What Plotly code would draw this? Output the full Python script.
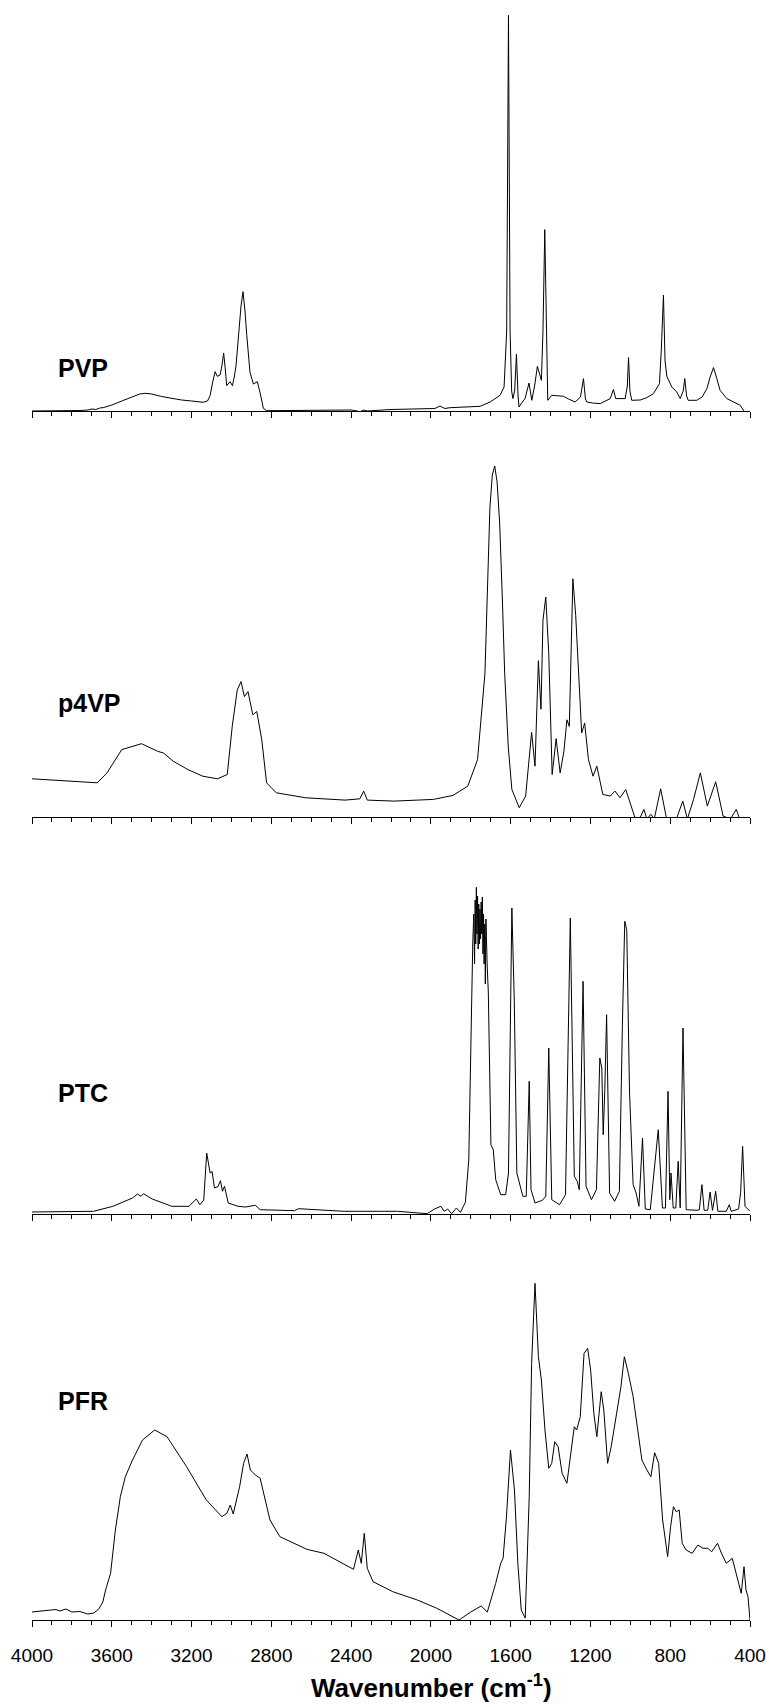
import plotly.graph_objects as go

FIG_W, FIG_H = 769, 1707

# ---------------- data (wavenumber in cm-1, absorbance in arbitrary units) ----------------
pvp_wn = [4000, 3850, 3760, 3720, 3700, 3680, 3660, 3640, 3600, 3550, 3500, 3460, 3433, 3400, 3350,
          3300, 3250, 3200, 3142, 3120, 3107, 3095, 3082, 3071, 3057, 3048, 3039, 3030, 3024, 3007,
          2995, 2985, 2977, 2963, 2952, 2942, 2932, 2923, 2907, 2890, 2870, 2857, 2840, 2823, 2700,
          2500, 2400, 2370, 2355, 2340, 2320, 2200, 2050, 1980, 1955, 1930, 1904, 1800, 1753, 1703,
          1653, 1633, 1620, 1611, 1603, 1595, 1589, 1580, 1571, 1563, 1558, 1545, 1528, 1508, 1494,
          1480, 1466, 1446, 1438, 1429, 1421, 1414, 1394, 1370, 1335, 1310, 1277, 1250, 1235, 1225,
          1218, 1190, 1151, 1101, 1085, 1073, 1026, 1015, 1009, 1002, 993, 950, 917, 884, 854,
          845, 834, 826, 817, 792, 767, 750, 735, 727, 718, 710, 667, 640, 616, 600,
          583, 570, 550, 516, 449, 424, 400]
pvp_abs = [0, 0, 0.5, 1, 2, 1.5, 3, 3.5, 6, 10, 14, 17, 17.7, 17, 14.5,
           12.5, 11, 10, 8.7, 10, 15.3, 28, 39.3, 34.7, 36, 45, 58, 40, 25.3, 29.3,
           25.3, 35, 45.3, 78.7, 105, 119.3, 100, 75.3, 38.7, 27, 29.3, 18.7, 2.7, 0.3, 0.5,
           1, 1, 0, -1, 1, 0, 1.5, 2, 2.5, 5, 2.5, 3.3, 4, 4.7, 9,
           15.7, 24, 80, 395.7, 80, 20, 12.4, 20, 56.7, 15, 4, 8, 12.4, 28, 10.7,
           25, 44.7, 30.7, 80, 181.4, 60, 10.7, 15.7, 15.5, 14.7, 12, 9, 14, 32.4, 12,
           9, 8, 7.4, 12.4, 21.4, 12.4, 12.4, 25, 53.4, 20, 10.7, 11, 13.4, 17.4, 27.4,
           60, 116, 50, 34.7, 24, 19, 12.4, 20, 32.4, 15, 10.7, 10.7, 14, 22.4, 34,
           43.4, 35, 20.7, 12.4, 5.7, -2, -5]

p4vp_wn = [4000, 3833, 3673, 3624, 3550, 3451, 3370, 3341, 3291, 3218, 3144, 3070, 3021, 2996, 2971,
           2952, 2935, 2917, 2893, 2873, 2848, 2824, 2775, 2627, 2430, 2356, 2337, 2319, 2184, 1987,
           1889, 1815, 1766, 1729, 1715, 1704, 1692, 1680, 1668, 1655, 1642, 1630, 1612, 1594, 1557,
           1525, 1495, 1478, 1461, 1448, 1438, 1424, 1409, 1392, 1372, 1352, 1333, 1318, 1306, 1288,
           1274, 1259, 1244, 1229, 1210, 1187, 1168, 1138, 1101, 1077, 1052, 1023, 1003, 978, 954,
           932, 917, 897, 880, 848, 818, 769, 737, 714, 683, 649, 614, 572, 535,
           498, 469, 454, 400]
p4vp_abs = [38.2, 35.8, 34.2, 44.1, 67.4, 73.3, 65.7, 64, 55.7, 47.4, 40.8, 38.2, 42.5, 90.6, 127,
            135.4, 120.4, 125.4, 102.2, 105.5, 77.3, 34.2, 24.2, 19.2, 16.9, 18.2, 25.9, 16.9, 15.9, 17.6,
            21.6, 30.9, 57.4, 143.7, 240, 309.6, 342, 351, 335, 293, 220, 143.7, 70, 27.5, 9.3,
            20.9, 84.6, 50.8, 156.3, 107.8, 196.8, 220, 163.6, 42.5, 78.3, 44.1, 65.7, 97.2, 90.6, 238.2,
            201.7, 137, 84, 93.9, 57.4, 40.8, 50.8, 22.6, 20.9, 25.9, 19.2, 27.5, 15.9, 0, -2,
            7.6, -2, 2.7, -2, 28.2, -2, -2, 15.9, -2, 17.6, 44.1, 10.9, 35.2, 1,
            -2, 7.6, -0.7, -2]

ptc_wn = [4000, 3692, 3594, 3496, 3471, 3454, 3441, 3397, 3299, 3213, 3176, 3158, 3139, 3124, 3107,
          3097, 3085, 3067, 3055, 3045, 3035, 3016, 2967, 2930, 2880, 2856, 2684, 2664, 2437, 2167,
          2019, 1982, 1950, 1933, 1916, 1896, 1872, 1852, 1827, 1810, 1790, 1785, 1781, 1778, 1775,
          1772, 1769, 1766, 1763, 1760, 1757, 1754, 1751, 1748, 1745, 1742, 1739, 1736, 1733, 1730,
          1727, 1724, 1718, 1712, 1699, 1687, 1675, 1650, 1625, 1611, 1594, 1582, 1569,
          1539, 1522, 1507, 1498, 1478, 1441, 1424, 1409, 1394, 1355, 1325, 1301, 1281, 1266, 1256,
          1237, 1222, 1195, 1170, 1153, 1143, 1136, 1128, 1119, 1104, 1079, 1055, 1040, 1028, 1018,
          1004, 986, 971, 957, 939, 925, 900, 860, 839, 824, 811, 802, 796, 785, 772,
          760, 750, 736, 720, 666, 654, 641, 630, 612, 600, 588, 572, 561, 519, 504,
          494, 457, 447, 437, 425, 400]
ptc_abs = [2, 2.7, 7.7, 16, 20, 17.7, 20.3, 15, 7.7, 7.7, 15, 9.3, 14, 61, 41,
           42.5, 26, 27.5, 33.3, 22.7, 27.7, 11, 7.7, 7, 8.7, 4.3, 3.3, 5.3, 2.7, 2.7,
           0.3, 5, 7.7, 2.7, 5, 0.3, 6, 1.7, 11.7, 54, 271, 300, 250, 314, 270,
           326.7, 280, 318, 265, 310, 270, 305, 275, 312, 280, 317, 260, 300, 250, 290,
           230, 295, 250, 221, 69.3, 64, 34.3, 19.3, 19.3, 41, 306, 214, 41,
           17.7, 17.7, 132.7, 24.3, 11, 13.7, 17.7, 166, 14.3, 9.3, 19.3, 296, 37.7, 32.7, 24.3,
           232.7, 27.7, 14.3, 24.3, 156, 146, 79.3, 124.3, 199.3, 21, 12.7, 22.7, 187.7, 292.7, 284.3,
           121, 29.3, 21, 7.7, 76, 5, 4.3, 84.3, 6, 6, 122.7, 14.3, 41, 6, 6,
           52.7, 6, 186, 4.3, 3.7, 4.3, 29.3, 3.7, 3.7, 22, 3.7, 22.7, 2.7, 2.7, 9.3,
           2.7, 5, 21.7, 67.7, 7.7, 2.7]

pfr_wn = [4000, 3940, 3880, 3860, 3830, 3800, 3760, 3720, 3690, 3665, 3645, 3631, 3606, 3582, 3557,
          3532, 3496, 3446, 3385, 3323, 3225, 3126, 3048, 3023, 3006, 2991, 2959, 2939, 2922, 2905,
          2880, 2856, 2831, 2807, 2757, 2684, 2622, 2536, 2462, 2388, 2364, 2349, 2334, 2319, 2290,
          2191, 2068, 1970, 1859, 1800, 1748, 1717, 1675, 1650, 1638, 1621, 1601, 1581, 1564, 1547,
          1527, 1507, 1495, 1478, 1461, 1446, 1428, 1409, 1394, 1379, 1362, 1342, 1318, 1293, 1281,
          1269, 1251, 1232, 1214, 1199, 1183, 1168, 1146, 1133, 1114, 1096, 1072, 1047, 1030, 1010,
          986, 961, 942, 917, 897, 878, 858, 838, 813, 798, 784, 770, 755, 740, 720,
          690, 661, 636, 612, 592, 563, 543, 519, 489, 465, 444, 430, 420, 410, 400]
pfr_abs = [8, 9, 10.5, 9, 11, 8, 8.5, 6, 7, 11, 18, 30, 46.7, 90, 123.3,
           143.3, 160, 180, 190, 183.3, 153.3, 120, 103.3, 106.7, 115, 106, 133.3, 156.7, 166, 150,
           145, 141.7, 120, 100, 83.3, 76.7, 70.7, 66.7, 58.3, 50.7, 70, 56.7, 86.7, 51.7, 38.3,
           28.3, 20, 11.7, 0, 8, 14, 8, 36.7, 56.7, 61.7, 103.3, 170, 130, 56.7, 10,
           2, 123.3, 256.7, 336.7, 263.3, 240, 190, 151.7, 156.7, 178.3, 173.3, 146.7, 136.7, 176.7, 193.3,
           190, 203.3, 266.7, 271.7, 250, 206.7, 183.3, 228.3, 210, 156.7, 173.3, 203.3, 233.3, 263.3, 246.7,
           223.3, 190, 160, 150, 143.3, 167.3, 156.7, 100, 63.3, 93.3, 113.3, 108.3, 110, 76.7, 70,
           66.7, 75, 71.7, 71.7, 68.3, 76.7, 66.7, 56.7, 61.7, 43.3, 26.7, 53.3, 30, 23.3, 0]

names = ["PVP", "p4VP", "PTC", "PFR"]
series_wn = [pvp_wn, p4vp_wn, ptc_wn, pfr_wn]
series_abs = [pvp_abs, p4vp_abs, ptc_abs, pfr_abs]

# ---------------- layout (pixel geometry) ----------------
PLOT_L, PLOT_R = 32, 750
axis_px = [411, 817, 1214, 1620]     # baseline (x axis) of each panel
range_px = [400, 355, 330, 340]      # vertical extent of each panel
label_px = [368, 703, 1093, 1401]    # vertical centre of each sample label
LABEL_X = 56

fig = go.Figure()
layout = dict(
    width=FIG_W, height=FIG_H,
    margin=dict(l=PLOT_L, r=FIG_W - PLOT_R, t=0, b=0),
    paper_bgcolor="white", plot_bgcolor="white",
    showlegend=False,
    annotations=[],
)

for i in range(4):
    k = "" if i == 0 else str(i + 1)
    xa, ya = "x" + k, "y" + k
    fig.add_trace(go.Scatter(
        x=series_wn[i], y=series_abs[i], mode="lines",
        line=dict(color="black", width=1), xaxis=xa, yaxis=ya,
        hoverinfo="skip", showlegend=False))
    d0 = 1 - axis_px[i] / FIG_H
    d1 = 1 - (axis_px[i] - range_px[i]) / FIG_H
    layout["xaxis" + k] = dict(
        range=[4000, 400], anchor=ya, domain=[0, 1],
        showline=True, linecolor="black", linewidth=1,
        ticks="outside", ticklen=6, tickwidth=1, tickcolor="black",
        tick0=0, dtick=400,
        minor=dict(dtick=100, ticks="outside", ticklen=4, tickwidth=1,
                   tickcolor="black", showgrid=False),
        showgrid=False, zeroline=False,
        showticklabels=(i == 3),
        ticklabelstandoff=12,
        tickfont=dict(family="Arial", size=19, color="black"),
    )
    layout["yaxis" + k] = dict(domain=[d0, d1], range=[0, range_px[i]],
                               visible=False, anchor=xa, fixedrange=True)
    layout["annotations"].append(dict(
        text="<b>" + names[i] + "</b>", xref="paper", yref="paper",
        x=(LABEL_X - PLOT_L) / (PLOT_R - PLOT_L), y=1 - label_px[i] / FIG_H,
        xanchor="left", yanchor="middle", showarrow=False,
        font=dict(family="Arial", size=25, color="black")))

layout["annotations"].append(dict(
    text="<b>Wavenumber (cm<sup>-1</sup>)</b>", xref="paper", yref="paper",
    x=(431 - PLOT_L) / (PLOT_R - PLOT_L), y=1 - 1686 / FIG_H,
    xanchor="center", yanchor="middle", showarrow=False,
    font=dict(family="Arial", size=26, color="black")))

fig.update_layout(**layout)
fig.write_html("out.html")
